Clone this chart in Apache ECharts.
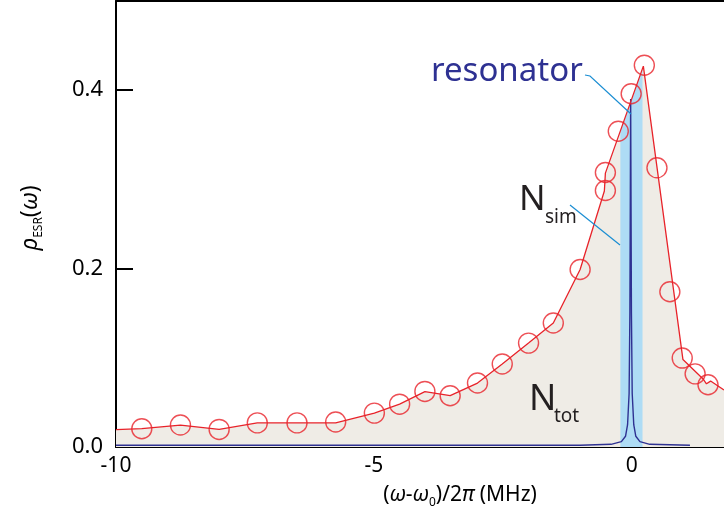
<!DOCTYPE html>
<html lang="en">
<head>
  <meta charset="UTF-8">
  <title>rho ESR</title>
  <script src="https://cdn.jsdelivr.net/npm/echarts@6/dist/echarts.min.js"></script>
  <style>
    html, body { margin: 0; padding: 0; background: #fff; }
    #main { width: 724px; height: 518px; }
  </style>
</head>
<body>
  <div id="main"></div>
  <script>
    // measured points (circles)
    var markerX = [-9.50, -8.75, -8.00, -7.26, -6.49, -5.74, -4.99, -4.50, -4.01, -3.52, -2.99, -2.51, -2.00, -1.52, -1.00, -0.51, -0.51, -0.26, -0.01, 0.245, 0.49, 0.74, 0.98, 1.23, 1.48]
    var markerY = [0.0205, 0.0246, 0.0197, 0.027, 0.027, 0.028, 0.038, 0.048, 0.0623, 0.0575, 0.0717, 0.093, 0.1165, 0.139, 0.199, 0.2875, 0.3077, 0.354, 0.396, 0.428, 0.313, 0.174, 0.0997, 0.082, 0.0698]
    // red guide line (also the top of the beige area)
    var fitX = [-10, -9.50, -8.75, -8.00, -7.26, -6.49, -5.74, -4.99, -4.50, -4.01, -3.52, -2.99, -2.51, -2.00, -1.52, -1.00, -0.53, -0.51, 0.226, 0.994, 1.38, 1.45, 1.53, 1.79]
    var fitY = [0.0194, 0.0205, 0.0246, 0.0197, 0.027, 0.027, 0.027, 0.038, 0.048, 0.062, 0.0575, 0.0717, 0.093, 0.1165, 0.139, 0.199, 0.287, 0.307, 0.427, 0.098, 0.0766, 0.0709, 0.0739, 0.064]
    // resonator band (N_sim)
    var bandX = [-0.22, 0.21]
    var bandY = [0.354, 0.424]
    // narrow resonator line
    var lorX = [-10, -1.0, -0.4, -0.2, -0.12, -0.08, -0.05, -0.035, -0.02, -0.005, 0.01, 0.04, 0.08, 0.16, 0.35, 1.13]
    var lorY = [0.002, 0.002, 0.003, 0.006, 0.012, 0.025, 0.06, 0.15, 0.39, 0.15, 0.06, 0.025, 0.012, 0.006, 0.003, 0.002]
    // axis ticks
    var xTicks = [-10, -5, 0]
    var yTicks = [0, 0.2, 0.4]
    var yTickLabels = ['0.0', '0.2', '0.4']

    function zip(a, b) {
      return a.map(function (v, i) { return [v, b[i]] })
    }

    var FONT = 'Noto Sans'
    var RED = '#e8232a'
    var NAVY = '#2e3192'

    var chart = echarts.init(document.getElementById('main'))
    var option = {
      animation: false,
      backgroundColor: '#fff',
      grid: { left: 116, right: 0, top: 1, bottom: 71, containLabel: false, outerBoundsMode: 'none' },
      xAxis: [{
        type: 'value', min: -10, max: 1.79,
        axisLine: { show: true, onZero: false, lineStyle: { color: '#000', width: 2 } },
        axisTick: { show: true, inside: true, length: 8, customValues: xTicks, lineStyle: { color: '#000', width: 2 } },
        axisLabel: { show: true, customValues: xTicks, margin: 9, color: '#000', fontFamily: FONT, fontSize: 21 },
        splitLine: { show: false }
      }, {
        type: 'value', min: -10, max: 1.79, position: 'top',
        axisLine: { show: true, onZero: false, lineStyle: { color: '#000', width: 2 } },
        axisTick: { show: false }, axisLabel: { show: false }, splitLine: { show: false }
      }],
      yAxis: {
        type: 'value', min: 0, max: 0.5,
        axisLine: { show: true, onZero: false, lineStyle: { color: '#000', width: 2 } },
        axisTick: { show: true, inside: true, length: 17, customValues: yTicks, lineStyle: { color: '#000', width: 2 } },
        axisLabel: {
          show: true, customValues: yTicks, margin: 13, color: '#000', fontFamily: FONT, fontSize: 22,
          formatter: function (v) { return yTickLabels[yTicks.indexOf(v)] || '' }
        },
        splitLine: { show: false }
      },
      series: [
        {
          // N_tot area
          type: 'line', data: zip(fitX, fitY), symbol: 'none', z: 1,
          lineStyle: { width: 0, color: '#efece6' },
          areaStyle: { color: '#efece6', opacity: 1 }
        },
        {
          // N_sim band
          type: 'line', data: zip(bandX, bandY), symbol: 'none', z: 2,
          lineStyle: { width: 0, color: '#aedcf5' },
          areaStyle: { color: '#aedcf5', opacity: 1 }
        },
        {
          type: 'line', data: zip(lorX, lorY), symbol: 'none', z: 3,
          lineStyle: { width: 1.4, color: NAVY }
        },
        {
          type: 'line', data: zip(fitX, fitY), symbol: 'none', z: 4,
          lineStyle: { width: 1.3, color: RED }
        },
        {
          type: 'scatter', data: zip(markerX, markerY), symbol: 'circle', symbolSize: 20, z: 5,
          itemStyle: { color: 'rgba(0,0,0,0)', borderColor: RED, borderWidth: 1.4 }
        }
      ],
      graphic: [
        {
          type: 'text', left: 431, top: 55, z: 10,
          style: { text: 'resonator', fill: NAVY, font: '33px "Noto Sans"' }
        },
        {
          type: 'polyline', z: 10,
          shape: { points: [[585, 75], [590, 76], [631, 114]] },
          style: { stroke: '#1b8ed3', lineWidth: 1.2, fill: null }
        },
        {
          type: 'text', left: 519, top: 183, z: 10,
          style: { text: 'N', fill: '#231f20', font: '35px "Noto Sans"' }
        },
        {
          type: 'text', left: 545, top: 208, z: 10,
          style: { text: 'sim', fill: '#231f20', font: '19px "Noto Sans"' }
        },
        {
          type: 'polyline', z: 10,
          shape: { points: [[570, 205], [620, 245]] },
          style: { stroke: '#1b8ed3', lineWidth: 1.2, fill: null }
        },
        {
          type: 'text', left: 529, top: 382, z: 10,
          style: { text: 'N', fill: '#231f20', font: '36px "Noto Sans"' }
        },
        {
          type: 'text', left: 554, top: 407, z: 10,
          style: { text: 'tot', fill: '#231f20', font: '19px "Noto Sans"' }
        },
        {
          type: 'text', x: 30, y: 218, rotation: Math.PI / 2, z: 10,
          style: {
            text: '{i|ρ}{s|ESR}{n|(}{i|ω}{n|)}',
            align: 'center', verticalAlign: 'middle',
            rich: {
              i: { fontFamily: FONT, fontStyle: 'italic', fontSize: 23, lineHeight: 30, verticalAlign: 'middle', fill: '#000' },
              n: { fontFamily: FONT, fontSize: 23, lineHeight: 30, verticalAlign: 'middle', fill: '#000' },
              s: { fontFamily: FONT, fontSize: 12, lineHeight: 12, verticalAlign: 'bottom', fill: '#000' }
            }
          }
        },
        {
          type: 'text', x: 460, y: 495, z: 10,
          style: {
            text: '{n|(}{i|ω}{n|-}{i|ω}{s|0}{n|)/2}{i|π}{n| (MHz)}',
            align: 'center', verticalAlign: 'middle',
            rich: {
              i: { fontFamily: FONT, fontStyle: 'italic', fontSize: 21, lineHeight: 28, verticalAlign: 'middle', fill: '#000' },
              n: { fontFamily: FONT, fontSize: 21, lineHeight: 28, verticalAlign: 'middle', fill: '#000' },
              s: { fontFamily: FONT, fontSize: 12, lineHeight: 12, verticalAlign: 'bottom', fill: '#000' }
            }
          }
        }
      ]
    }
    chart.setOption(option)
  </script>
</body>
</html>
